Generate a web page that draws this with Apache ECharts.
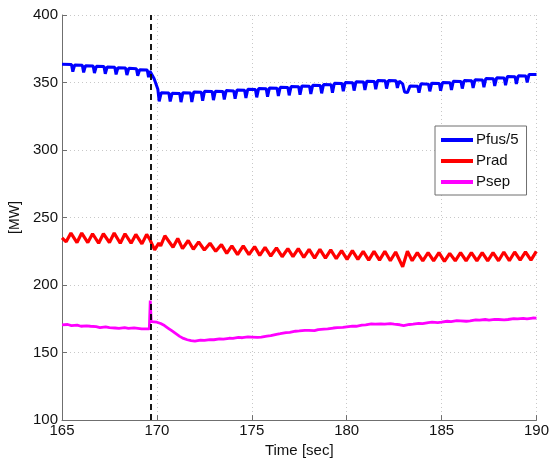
<!DOCTYPE html>
<html>
<head>
<meta charset="utf-8">
<script src="https://cdn.jsdelivr.net/npm/echarts@6/dist/echarts.min.js"></script>
<style>
html,body{margin:0;padding:0;background:#fff;}
#c{width:552px;height:463px;}
</style>
</head>
<body>
<div id="c"></div>
<script>
const xTicks = [165, 170, 175, 180, 185, 190];
const yTicks = [100, 150, 200, 250, 300, 350, 400];
const seriesNames = ['Pfus/5', 'Prad', 'Psep'];
const eventTime = 169.65;

const pfus = [[165.0,363.5],[165.10,363.5],[165.50,363.3],[165.57,358],[165.67,363],[166.07,362.8],[166.14,357.5],
[166.24,362.5],[166.64,362.3],[166.71,357],[166.81,362],[167.21,361.8],[167.28,356.5],[167.38,361.5],[167.78,361.3],[167.85,356],
[167.95,361],[168.35,360.8],[168.42,355.5],[168.52,360.5],[168.92,360.2],[168.99,355],[169.09,359.5],[169.49,359.2],[169.56,354],
[169.63,358.5],[169.85,353],[170.05,345],[170.12,336],[170.23,342.5],[170.63,342.3],[170.70,336],[170.80,342],[171.20,341.8],[171.27,335.5],
[171.37,342.5],[171.77,342.3],[171.84,335.5],[171.94,343],[172.34,342.8],[172.41,336.5],[172.51,343.5],[172.91,343.3],[172.98,337],
[173.08,343.5],[173.48,343.3],[173.55,337.5],[173.65,344],[174.05,343.8],[174.12,338],[174.22,344.5],[174.62,344.3],[174.69,338.5],
[174.79,345],[175.19,344.8],[175.26,339],[175.36,345.5],[175.76,345.3],[175.83,339.5],[175.93,346],[176.33,345.8],[176.40,340],
[176.50,346.5],[176.90,346.3],[176.97,340.5],[177.07,347],[177.47,346.8],[177.54,341],[177.64,347.5],[178.04,347.3],[178.11,341.5],
[178.21,348],[178.61,347.8],[178.68,342],[178.78,348.5],[179.18,348.3],[179.25,342.5],[179.35,349.5],[179.75,349.3],[179.82,343.5],
[179.92,350],[180.32,349.8],[180.39,344],[180.49,350.5],[180.89,350.3],[180.96,344.5],[181.06,351],[181.46,350.8],[181.53,345],
[181.63,351.5],[182.03,351.3],[182.10,345.5],[182.20,351.5],[182.60,351.3],[182.67,346],[182.77,351],[182.95,349],[183.05,343],[183.20,342.5],
[183.34,347.5],[183.74,347.3],[183.81,342.5],[183.91,349],[184.31,348.8],[184.38,343.5],[184.48,349.5],[184.88,349.3],[184.95,344],
[185.05,350],[185.45,349.8],[185.52,344.5],[185.62,351],[186.02,350.8],[186.09,345.5],[186.19,351.5],[186.59,351.3],[186.66,346],
[186.76,352],[187.16,351.8],[187.23,346.5],[187.33,353],[187.73,352.8],[187.80,347.5],[187.90,353.5],[188.30,353.3],[188.37,348],
[188.47,354.5],[188.87,354.3],[188.94,349],[189.04,355],[189.44,354.8],[189.51,350],[189.61,356],[190.0,356]];

const prad = [[165.0,235],[165.22,232],[165.47,238.5],[165.79,231.5],[166.04,238.5],[166.36,231.5],[166.61,238],[166.93,231],[167.18,238],
[167.50,231.5],[167.75,238.5],[168.07,231],[168.32,238],[168.64,231],[168.89,237.5],[169.21,230.5],[169.46,237.5],[169.62,234],[169.88,226],
[170.10,231],[170.20,229],[170.42,236.5],[170.85,228],[171.10,234.5],[171.35,227],[171.65,233],[171.92,226.5],[172.20,232],[172.50,226],
[172.80,231],[173.10,225],[173.40,230],[173.68,223.5],[173.95,229],[174.25,222.5],[174.55,229],[174.85,222.5],[175.15,228.5],[175.42,222],
[175.70,228],[176.00,221.5],[176.30,227.5],[176.60,221],[176.90,227],[177.17,221],[177.45,227],[177.74,220.5],[178.02,226.5],[178.31,220],
[178.59,226.5],[178.88,220],[179.16,226],[179.45,219.5],[179.73,225.5],[180.02,219],[180.30,225.5],[180.59,219],[180.87,225],[181.16,218.5],
[181.44,225],[181.73,218.5],[182.01,225],[182.30,218],[182.58,224.5],[182.95,213.5],[183.20,225],[183.45,218],[183.72,224],[184.01,218],
[184.29,224],[184.58,218],[184.86,224],[185.15,217.5],[185.43,223.5],[185.72,218],[186.00,224],[186.29,218],[186.57,224],[186.86,218],
[187.14,224],[187.43,218],[187.71,224],[188.00,218],[188.28,224.5],[188.57,218],[188.85,224.5],[189.14,218.5],[189.42,224.5],[189.71,218.5],[189.99,225]];

const psep = [[165.0,170.5],[165.3,170.8],[165.5,170],[165.8,170.3],[166.0,169.5],[166.3,169.8],[166.5,169.5],[166.8,169.2],[167.0,168.5],
[167.3,169],[167.5,168.5],[167.8,168.2],[168.0,168],[168.3,168.5],[168.5,168],[168.8,168.3],[169.0,168],[169.2,167.6],[169.4,167.5],
[169.6,167.5],[169.65,188.5],[169.70,173],[170.0,172.5],[170.2,171.5],[170.4,170],[170.6,168],[170.8,166],[171.0,164],[171.2,162],
[171.4,160.5],[171.6,159.5],[171.8,158.8],[172.0,158.5],[172.3,159.2],[172.5,159],[172.8,159.6],[173.0,159.5],[173.3,160.2],[173.5,160],
[173.8,160.6],[174.0,160.5],[174.3,161.2],[174.5,161],[174.8,161.6],[175.0,161.5],[175.3,161.2],[175.5,161.5],[175.8,162.2],[176.0,162.5],
[176.3,163.5],[176.5,164],[176.8,164.8],[177.0,165],[177.3,165.8],[177.5,166],[177.8,166.5],[178.0,166.5],[178.3,166.2],[178.5,167],
[178.8,167.4],[179.0,167.5],[179.3,168.2],[179.5,168.5],[179.8,168.6],[180.0,169],[180.3,169.6],[180.5,169.5],[180.8,170.3],[181.0,170.5],
[181.3,171.2],[181.5,171],[181.8,171.3],[182.0,171],[182.3,171.4],[182.5,171],[182.8,170.6],[183.0,170],[183.3,170.8],[183.5,171],
[183.8,171.6],[184.0,171.5],[184.3,172.2],[184.5,172.5],[184.8,172.2],[185.0,172.5],[185.3,173.2],[185.5,173],[185.8,173.6],[186.0,173.5],
[186.3,173.2],[186.5,173.5],[186.8,174.2],[187.0,174],[187.3,174.5],[187.5,174],[187.8,174.6],[188.0,174.5],[188.3,174.2],[188.5,174.5],
[188.8,175.2],[189.0,175],[189.3,175.4],[189.5,175],[189.8,175.6],[190.0,175.5]];

const colors = ['#0000ff', '#ff0000', '#ff00ff'];
const font = '"Liberation Sans", Arial, Helvetica, sans-serif';

const chart = echarts.init(document.getElementById('c'), null, {renderer: 'canvas'});
chart.setOption({
  animation: false,
  backgroundColor: '#ffffff',
  grid: {left: 62, top: 15, right: 11, bottom: 40, containLabel: false},
  legend: {
    show: true,
    data: seriesNames,
    orient: 'vertical',
    left: 435,
    top: 126,
    width: 93,
    padding: [6, 8, 5, 6],
    itemGap: 5,
    itemWidth: 32,
    itemHeight: 4,
    icon: 'rect',
    backgroundColor: '#ffffff',
    borderColor: '#6f6f6f',
    borderWidth: 1,
    textStyle: {fontFamily: font, fontSize: 15, color: '#111', padding: [0,0,0,-2], lineHeight: 16}
  },
  xAxis: {
    type: 'value', min: xTicks[0], max: xTicks[xTicks.length-1], interval: 5,
    name: 'Time [sec]', nameLocation: 'middle', nameGap: 21,
    nameTextStyle: {fontFamily: font, fontSize: 15, color: '#111'},
    axisLine: {show: true, lineStyle: {color: '#6f6f6f', width: 1}},
    axisTick: {show: true, inside: true, length: 5, lineStyle: {color: '#6f6f6f'}},
    axisLabel: {fontFamily: font, fontSize: 15, color: '#111', margin: 3},
    splitLine: {show: true, lineStyle: {color: '#c8c8c8', type: [1, 3], width: 1}}
  },
  yAxis: {
    type: 'value', min: yTicks[0], max: yTicks[yTicks.length-1], interval: 50,
    name: '[MW]', nameLocation: 'middle', nameGap: 36, nameRotate: 90,
    nameTextStyle: {fontFamily: font, fontSize: 14, color: '#111'},
    axisLine: {show: true, lineStyle: {color: '#6f6f6f', width: 1}},
    axisTick: {show: true, inside: true, length: 5, lineStyle: {color: '#6f6f6f'}},
    axisLabel: {fontFamily: font, fontSize: 15, color: '#111', margin: 4},
    splitLine: {show: true, lineStyle: {color: '#c8c8c8', type: [1, 3], width: 1}}
  },
  series: [
    {name: seriesNames[0], type: 'line', data: pfus, showSymbol: false, symbol: 'none',
     lineStyle: {color: colors[0], width: 3}, itemStyle: {color: colors[0]}, z: 3},
    {name: seriesNames[1], type: 'line', data: prad, showSymbol: false, symbol: 'none',
     lineStyle: {color: colors[1], width: 3.2}, itemStyle: {color: colors[1]}, z: 3},
    {name: seriesNames[2], type: 'line', data: psep, showSymbol: false, symbol: 'none',
     lineStyle: {color: colors[2], width: 2.8}, itemStyle: {color: colors[2]}, z: 3,
     markLine: {silent: true, symbol: 'none', label: {show: false},
       lineStyle: {color: '#000', width: 1.8, type: [6, 4]},
       data: [[{coord: [eventTime, 100]}, {coord: [eventTime, 400]}]]}}
  ]
});
</script>
</body>
</html>
